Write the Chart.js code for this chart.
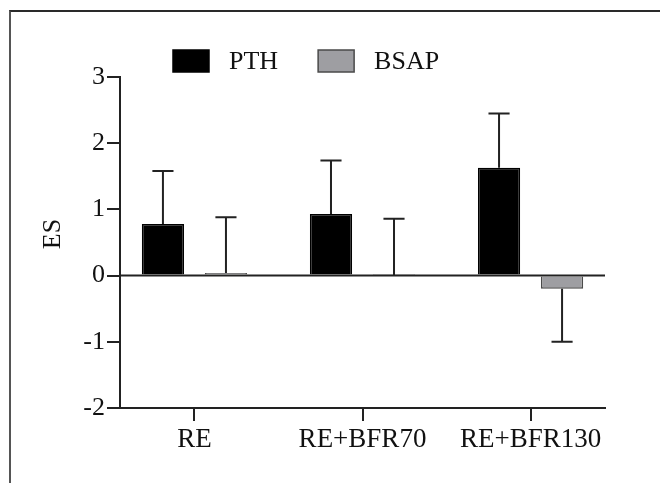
<!DOCTYPE html>
<html>
<head>
<meta charset="utf-8">
<script src="https://cdn.jsdelivr.net/npm/chart.js@4"></script>
<style>
  html, body { margin: 0; padding: 0; background: #fff; overflow: hidden; }
  #wrap { position: relative; width: 660px; height: 483px; }
  #frame { position: absolute; left: 9px; top: 10px; width: 700px; height: 520px;
           border-top: 2px solid #2a2a2a; border-left: 2px solid #555; pointer-events: none; }
  canvas { position: absolute; left: 0; top: 0; }
</style>
</head>
<body>
<div id="wrap">
  <div id="frame"></div>
  <canvas id="grafico"></canvas>
</div>
<script>
const categorias = ['RE', 'RE+BFR70', 'RE+BFR130'];
const valoresPTH = [0.78, 0.93, 1.63];
const erroPTH = [0.80, 0.81, 0.82];
const valoresBSAP = [0.04, 0.01, -0.20];
const erroBSAP = [0.84, 0.85, 0.80];
const ticksY = [-2, -1, 0, 1, 2, 3];

const fonte = 'Liberation Serif, Times New Roman, serif';
const corLinha = '#222';

// barras de erro (so para o lado do valor)
const pluginErro = {
    id: 'erro',
    afterDatasetsDraw(chart) {
        const ctx = chart.ctx;
        const y = chart.scales.y;
        const area = chart.chartArea;
        ctx.save();
        // linha do zero
        ctx.strokeStyle = corLinha;
        ctx.lineWidth = 2;
        ctx.beginPath();
        ctx.moveTo(area.left, y.getPixelForValue(0));
        ctx.lineTo(area.right, y.getPixelForValue(0));
        ctx.stroke();

        chart.data.datasets.forEach((ds, i) => {
            const meta = chart.getDatasetMeta(i);
            meta.data.forEach((bar, j) => {
                const v = ds.data[j].y;
                const e = ds.erros[j];
                const fim = v >= 0 ? v + e : v - e;
                const yIni = y.getPixelForValue(v);
                const yFim = y.getPixelForValue(fim);
                const meia = bar.width / 4;
                ctx.beginPath();
                ctx.moveTo(bar.x, yIni);
                ctx.lineTo(bar.x, yFim);
                ctx.moveTo(bar.x - meia, yFim);
                ctx.lineTo(bar.x + meia, yFim);
                ctx.stroke();
            });
        });
        ctx.restore();
    }
};

// legenda e titulo do eixo Y
const pluginLegenda = {
    id: 'legendaManual',
    afterDraw(chart) {
        const ctx = chart.ctx;
        ctx.save();
        ctx.font = '26px ' + fonte;
        ctx.textBaseline = 'middle';
        ctx.fillStyle = '#111';
        let x = 173;
        const topo = 50;
        chart.data.datasets.forEach(ds => {
            ctx.fillStyle = ds.backgroundColor;
            ctx.fillRect(x, topo, 36, 22);
            ctx.strokeStyle = ds.borderColor;
            ctx.lineWidth = 1.5;
            ctx.strokeRect(x, topo, 36, 22);
            x += 36 + 20;
            ctx.fillStyle = '#111';
            ctx.fillText(ds.label, x, topo + 12);
            x += ctx.measureText(ds.label).width + 40;
        });

        ctx.translate(53, 234);
        ctx.rotate(-Math.PI / 2);
        ctx.textAlign = 'center';
        ctx.fillText('ES', 0, 0);
        ctx.restore();
    }
};

new Chart(document.getElementById('grafico'), {
    type: 'bar',
    data: {
        datasets: [{
            label: 'PTH',
            data: valoresPTH.map((v, i) => ({ x: i, y: v })),
            erros: erroPTH,
            backgroundColor: '#000',
            borderColor: '#000',
            borderWidth: 1.5
        }, {
            label: 'BSAP',
            data: valoresBSAP.map((v, i) => ({ x: i, y: v })),
            erros: erroBSAP,
            backgroundColor: '#9e9ea2',
            borderColor: '#4a4a4a',
            borderWidth: 1.5
        }]
    },
    options: {
        responsive: true, maintainAspectRatio: false, animation: false,
        barPercentage: 0.67, categoryPercentage: 0.75,
        layout: { padding: { left: 0, top: 77, right: 55, bottom: 0 } },
        plugins: { legend: { display: false }, tooltip: { enabled: false } },
        scales: {
            x: {
                type: 'linear', min: -0.443, max: 2.443, offset: false,
                afterFit: s => { s.height = 75; },
                grid: { offset: false, drawOnChartArea: false, color: corLinha, lineWidth: 2, tickLength: 13 },
                border: { color: corLinha, width: 2 },
                ticks: {
                    stepSize: 1, includeBounds: false, color: '#111', padding: 3,
                    font: { family: fonte, size: 27 },
                    callback: v => categorias[v]
                }
            },
            y: {
                min: ticksY[0], max: ticksY[ticksY.length - 1],
                afterFit: s => { s.width = 120; },
                grid: { drawOnChartArea: false, color: corLinha, lineWidth: 2, tickLength: 13 },
                border: { color: corLinha, width: 2 },
                ticks: {
                    stepSize: 1, color: '#111', padding: 2,
                    font: { family: fonte, size: 26 }
                }
            }
        }
    },
    plugins: [pluginErro, pluginLegenda]
});
</script>
</body>
</html>
